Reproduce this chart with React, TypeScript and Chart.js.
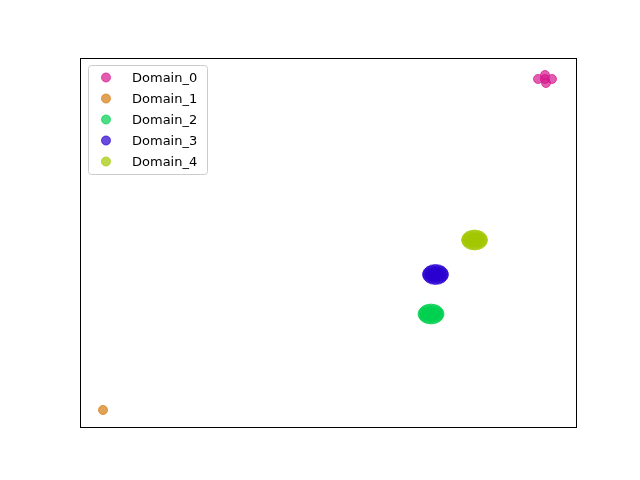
import React, { useEffect, useRef } from "react";
import { Chart, registerables } from "chart.js";

Chart.register(...registerables);

const domainNames = ["Domain_0", "Domain_1", "Domain_2", "Domain_3", "Domain_4"];
const domainColors = ["#d6178d", "#d57b10", "#00d050", "#2a00d0", "#a3c800"];

type P = { x: number; y: number };
const pts = (arr: number[][]): P[] => arr.map(([x, y]) => ({ x, y }));

const domain0 = pts([
  [92.34, 94.31],
  [93.75, 95.39],
  [95.16, 94.31],
  [93.95, 93.22],
  [93.75, 94.31],
]);
const domain1 = pts([[4.64, 4.61]]);
const domain2 = pts([
  [72.48, 30.62], [72.34, 31.19], [71.98, 31.68], [71.42, 32.0], [70.77, 32.11],
  [70.12, 32.0], [69.56, 31.68], [69.2, 31.19], [69.06, 30.62], [69.2, 30.05],
  [69.56, 29.56], [70.12, 29.24], [70.77, 29.13], [71.42, 29.24], [71.98, 29.56],
  [72.34, 30.05], [70.77, 30.62], [71.58, 30.62], [69.96, 30.62], [70.77, 31.3],
  [70.77, 29.94], [71.37, 31.16], [70.17, 30.08],
]);
const domain3 = pts([
  [73.38, 41.33], [73.24, 41.9], [72.88, 42.39], [72.32, 42.71], [71.67, 42.82],
  [71.02, 42.71], [70.46, 42.39], [70.1, 41.9], [69.96, 41.33], [70.1, 40.76],
  [70.46, 40.27], [71.02, 39.95], [71.67, 39.84], [72.32, 39.95], [72.88, 40.27],
  [73.24, 40.76], [71.67, 41.33], [72.48, 41.33], [70.86, 41.33], [71.67, 42.01],
  [71.67, 40.65], [72.27, 41.87], [71.07, 40.79],
]);
const domain4 = pts([
  [81.25, 50.68], [81.11, 51.25], [80.75, 51.74], [80.19, 52.06], [79.54, 52.17],
  [78.89, 52.06], [78.33, 51.74], [77.97, 51.25], [77.83, 50.68], [77.97, 50.11],
  [78.33, 49.62], [78.89, 49.3], [79.54, 49.19], [80.19, 49.3], [80.75, 49.62],
  [81.11, 50.11], [79.54, 50.68], [80.35, 50.68], [78.73, 50.68], [79.54, 51.36],
  [79.54, 50.0], [80.14, 51.22], [78.94, 50.14],
]);
const domainData = [domain0, domain1, domain2, domain3, domain4];

function hexToRgba(hex: string, a: number) {
  const r = parseInt(hex.slice(1, 3), 16);
  const g = parseInt(hex.slice(3, 5), 16);
  const b = parseInt(hex.slice(5, 7), 16);
  return `rgba(${r},${g},${b},${a})`;
}

const framePlugin = {
  id: "frameAndLegend",
  afterDraw(chart: any) {
    const ctx = chart.ctx;
    const { left, top, right, bottom } = chart.chartArea;
    ctx.save();
    ctx.strokeStyle = "#000";
    ctx.lineWidth = 1;
    ctx.strokeRect(Math.round(left) + 0.5, Math.round(top) + 0.5, Math.round(right - left), Math.round(bottom - top));

    const bx = left + 8.5;
    const by = top + 7.5;
    const bw = 119;
    const bh = 109;
    const r = 3;
    ctx.beginPath();
    ctx.moveTo(bx + r, by);
    ctx.lineTo(bx + bw - r, by);
    ctx.quadraticCurveTo(bx + bw, by, bx + bw, by + r);
    ctx.lineTo(bx + bw, by + bh - r);
    ctx.quadraticCurveTo(bx + bw, by + bh, bx + bw - r, by + bh);
    ctx.lineTo(bx + r, by + bh);
    ctx.quadraticCurveTo(bx, by + bh, bx, by + bh - r);
    ctx.lineTo(bx, by + r);
    ctx.quadraticCurveTo(bx, by, bx + r, by);
    ctx.closePath();
    ctx.fillStyle = "rgba(255,255,255,0.8)";
    ctx.fill();
    ctx.strokeStyle = "#cccccc";
    ctx.stroke();

    ctx.font = '13px "DejaVu Sans"';
    ctx.textBaseline = "middle";
    ctx.textAlign = "left";
    chart.data.datasets.forEach((ds: any, i: number) => {
      const y = top + 19.5 + i * 21;
      ctx.beginPath();
      ctx.arc(left + 26, y, 4.5, 0, Math.PI * 2);
      ctx.fillStyle = ds.backgroundColor;
      ctx.fill();
      ctx.strokeStyle = ds.borderColor;
      ctx.stroke();
      ctx.fillStyle = "#000";
      ctx.fillText(ds.label, left + 52, y + 1);
    });
    ctx.restore();
  },
};

export default function App() {
  const ref = useRef<HTMLCanvasElement>(null);
  useEffect(() => {
    if (!ref.current) return;
    const chart = new Chart(ref.current, {
      type: "scatter",
      data: {
        datasets: domainNames.map((name, i) => ({
          label: name,
          data: domainData[i],
          backgroundColor: hexToRgba(domainColors[i], 0.7),
          borderColor: hexToRgba(domainColors[i], 0.7),
          borderWidth: 1,
          pointRadius: 4.5,
          pointHoverRadius: 4.5,
        })),
      },
      options: {
        animation: false,
        responsive: false,
        maintainAspectRatio: false,
        layout: { padding: { left: 80, top: 58, right: 64, bottom: 53 } },
        plugins: { legend: { display: false }, tooltip: { enabled: false } },
        scales: {
          x: { type: "linear", min: 0, max: 100, display: false },
          y: { type: "linear", min: 0, max: 100, display: false },
        },
      },
      plugins: [framePlugin],
    });
    return () => chart.destroy();
  }, []);
  return (
    <div style={{ position: "fixed", left: 0, top: 0, width: 640, height: 480, background: "#fff" }}>
      <canvas ref={ref} width={640} height={480} style={{ width: 640, height: 480 }} />
    </div>
  );
}
